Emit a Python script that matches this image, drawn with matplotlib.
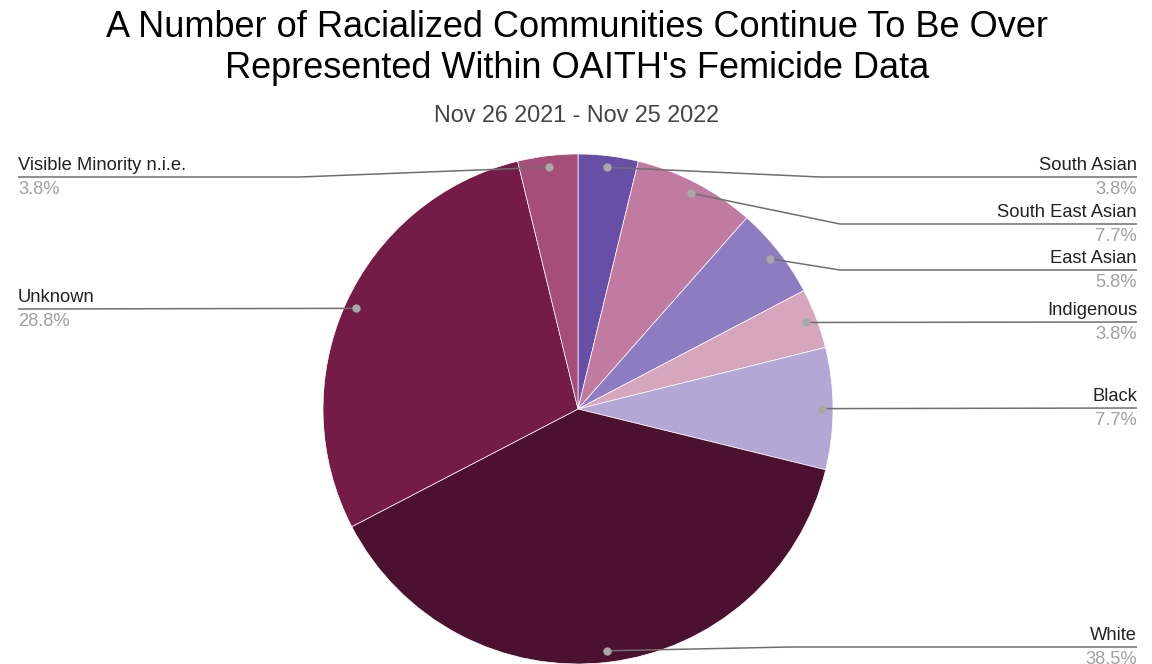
import matplotlib
matplotlib.use("Agg")
import matplotlib.pyplot as plt
import numpy as np

plt.rcParams['font.family'] = ['Liberation Sans', 'DejaVu Sans']

#---------------------------------------#
# DATA
#---------------------------------------#
categories = ['South Asian', 'South East Asian', 'East Asian', 'Indigenous',
              'Black', 'White', 'Unknown', 'Visible Minority n.i.e.']
shares = [3.8, 7.7, 5.8, 3.8, 7.7, 38.5, 28.8, 3.8]
colors = ['#674ea7', '#c27ba0', '#8e7cc3', '#d5a6bd',
          '#b4a7d6', '#4c1130', '#741b47', '#a64d79']

title = "A Number of Racialized Communities Continue To Be Over\nRepresented Within OAITH's Femicide Data"
subtitle = "Nov 26 2021 - Nov 25 2022"

#---------------------------------------#
# LAYOUT (pixel units, y measured from the top)
#---------------------------------------#
W, H = 1152, 664
CX, CY, R = 578, 409, 255
# label side, y of the leader line, x of the bend (None = straight)
label_side = ['r', 'r', 'r', 'r', 'r', 'r', 'l', 'l']
label_y = [177, 224, 270, 322, 408, 647, 309, 177]
bend_x = [820, 840, 840, None, None, 790, None, 300]
RIGHT_X, LEFT_X = 1137, 18


def fy(py):
    # flip a top-down pixel y into the axes' bottom-up coordinates
    return H - py


fig = plt.figure(figsize=(W / 100, H / 100), dpi=100)
ax = fig.add_axes([0, 0, 1, 1])

wedges, _ = ax.pie(shares, colors=colors, startangle=90, counterclock=False,
                   center=(CX, fy(CY)), radius=R, frame=True,
                   wedgeprops=dict(edgecolor='white', linewidth=0.5))

ax.set_xlim(0, W)
ax.set_ylim(0, H)
ax.set_aspect('auto')
ax.axis('off')

# leader lines, dots and labels
for w, name, val, side, ly, bx in zip(wedges, categories, shares,
                                      label_side, label_y, bend_x):
    ang = np.deg2rad((w.theta1 + w.theta2) / 2)
    dx = CX + 0.955 * R * np.cos(ang)
    dy = fy(CY) + 0.955 * R * np.sin(ang)
    end_x = RIGHT_X if side == 'r' else LEFT_X
    xs = [dx]
    ys = [dy]
    if bx is not None:
        xs.append(bx)
        ys.append(fy(ly))
    xs.append(end_x)
    ys.append(fy(ly))
    ax.plot(xs, ys, color='#6f6f6f', linewidth=1.1, solid_capstyle='butt', zorder=3)
    ax.plot(dx, dy, 'o', color='#a8a8a8', markersize=5, zorder=4)

    ha = 'right' if side == 'r' else 'left'
    ax.text(end_x, fy(ly) + 3, name, ha=ha, va='bottom', fontsize=13.2, color='#222222')
    ax.text(end_x, fy(ly) - 4, f"{val:.1f}%", ha=ha, va='top', fontsize=13.2, color='#a0a0a0')

# title and subtitle
fig.text(577 / W, 1 - 48 / H, title, ha='center', va='center', fontsize=26,
         color='#000000', linespacing=1.22)
fig.text(577 / W, 1 - 116 / H, subtitle, ha='center', va='center', fontsize=16.8,
         color='#444444')

fig.savefig('out.png', dpi=100)
